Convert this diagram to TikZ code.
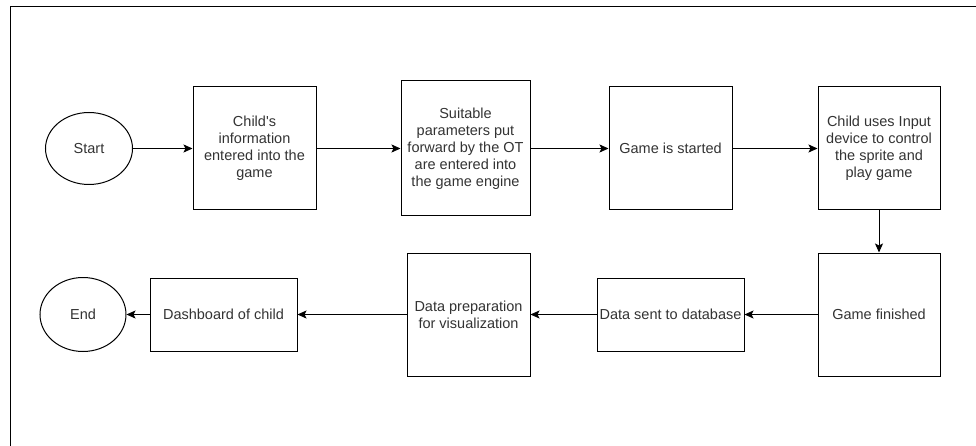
\documentclass[tikz,border=0pt]{standalone}
\usepackage{fontspec}
\setmainfont{Liberation Sans}
\usetikzlibrary{shapes.geometric,arrows.meta}

\begin{document}
\begin{tikzpicture}[x=1pt,y=-1pt,
    box/.style={draw,line width=1pt,inner sep=0pt,align=center,text=black!80,
      font=\fontsize{14.5}{17}\selectfont},
    term/.style={box,ellipse},
    flow/.style={-{Stealth[length=9pt,width=8pt,inset=2pt]},line width=1pt}]
        \useasboundingbox (0,0) rectangle (976,446);
        \draw[line width=1pt] (976,7) -- (10,7) -- (10,446);
        \node[term,minimum width=87,minimum height=72] (start) at (89,148.5) {Start};
        \node[box,minimum width=123,minimum height=123] (info) at (254.5,148.5) {Child\textquotesingle s\\information\\entered into the\\game};
        \node[box,minimum width=129,minimum height=135] (param) at (465.5,148.5) {Suitable\\parameters put\\forward by the OT\\are entered into\\the game engine};
        \node[box,minimum width=123,minimum height=123] (begin) at (670.5,148.5) {Game is started};
        \node[box,minimum width=122,minimum height=123] (play) at (879,148.5) {Child uses Input\\device to control\\the sprite and\\play game};
        \node[box,minimum width=122,minimum height=123] (finish) at (879,314.5) {Game finished};
        \node[box,minimum width=147,minimum height=73] (sent) at (670.5,314.5) {Data sent to database};
        \node[box,minimum width=123,minimum height=123] (prep) at (468.5,314.5) {Data preparation\\for visualization};
        \node[box,minimum width=147,minimum height=73] (dash) at (223.5,314.5) {Dashboard of child};
        \node[term,minimum width=86,minimum height=74] (stop) at (83,314.5) {End};
        \draw[flow] (start) -- (info);
        \draw[flow] (info) -- (param);
        \draw[flow] (param) -- (begin);
        \draw[flow] (begin) -- (play);
        \draw[flow] (play) -- (finish);
        \draw[flow] (finish) -- (sent);
        \draw[flow] (sent) -- (prep);
        \draw[flow] (prep) -- (dash);
        \draw[flow] (dash) -- (stop);
      \end{tikzpicture}
\end{document}
